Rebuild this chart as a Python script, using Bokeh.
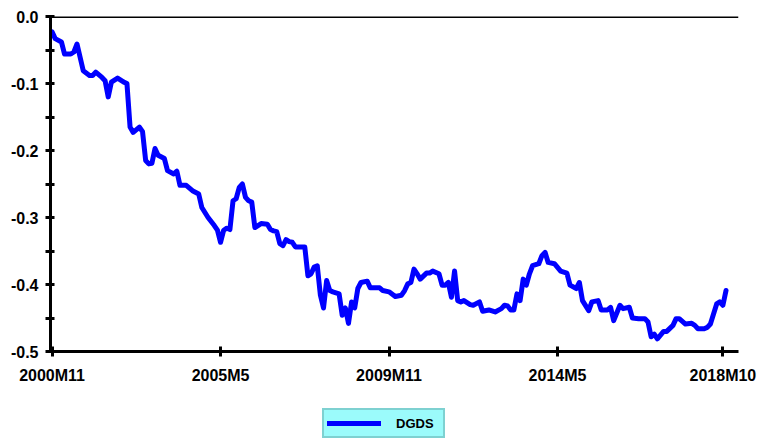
from bokeh.plotting import figure
from bokeh.layouts import column
from bokeh.models import ColumnDataSource, FixedTicker, Legend, LegendItem, Span, Range1d
from bokeh.embed import file_html
from bokeh.resources import INLINE

# months since 2000M11
months = [0, 1, 3, 4, 6, 7, 8, 10, 12, 13, 14, 16, 17, 18, 19, 21, 23, 24, 25, 26,
          28, 29, 30, 31, 32, 33, 34, 36, 37, 39, 40, 41, 43, 45, 47, 48, 50, 52, 53, 54,
          55, 56, 57, 58, 59, 60, 61, 62, 63, 64, 65, 67, 69, 70, 71, 72, 73, 74, 75, 76,
          77, 78, 81, 82, 83, 84, 85, 86, 87, 88, 89, 90, 92, 93, 94, 95, 96, 97, 98, 99,
          101, 102, 105, 106, 108, 110, 112, 113, 114, 115, 116, 117, 118, 120, 121, 122,
          124, 125, 126, 127, 128, 129, 130, 131, 132, 134, 135, 137, 138, 140, 142, 144,
          145, 146, 147, 148, 149, 150, 151, 152, 153, 154, 156, 157, 158, 159, 161, 163,
          165, 166, 168, 169, 170, 172, 173, 175, 176, 178, 179, 180, 182, 183, 185, 186,
          188, 190, 191, 192, 193, 194, 196, 197, 199, 200, 201, 203, 205, 206, 207, 209,
          210, 211, 213, 214, 215, 216]
dgds = [-0.023, -0.033, -0.038, -0.056, -0.056, -0.053, -0.041, -0.081, -0.088, -0.088,
        -0.083, -0.091, -0.096, -0.120, -0.098, -0.092, -0.098, -0.100, -0.165, -0.173,
        -0.165, -0.172, -0.215, -0.220, -0.219, -0.197, -0.207, -0.212, -0.230, -0.235,
        -0.231, -0.252, -0.252, -0.260, -0.265, -0.285, -0.300, -0.312, -0.319, -0.337,
        -0.319, -0.316, -0.318, -0.275, -0.272, -0.255, -0.250, -0.270, -0.275, -0.277,
        -0.315, -0.309, -0.310, -0.318, -0.320, -0.321, -0.339, -0.342, -0.333, -0.336,
        -0.337, -0.344, -0.344, -0.387, -0.384, -0.374, -0.372, -0.416, -0.435, -0.394,
        -0.409, -0.411, -0.414, -0.446, -0.435, -0.458, -0.426, -0.435, -0.406, -0.397,
        -0.395, -0.405, -0.405, -0.409, -0.411, -0.418, -0.416, -0.409, -0.399, -0.397,
        -0.377, -0.384, -0.392, -0.383, -0.383, -0.380,
        -0.384, -0.401, -0.401, -0.397, -0.419, -0.380, -0.424, -0.426, -0.424, -0.430,
        -0.431, -0.426, -0.440, -0.438, -0.441, -0.436,
        -0.431, -0.432, -0.438, -0.438, -0.414, -0.424, -0.392, -0.401, -0.384, -0.372,
        -0.369, -0.357, -0.352, -0.367, -0.369, -0.380,
        -0.383, -0.401, -0.406, -0.397, -0.424, -0.439, -0.426, -0.424, -0.438, -0.438,
        -0.434, -0.454, -0.431, -0.436, -0.434, -0.450,
        -0.451, -0.451, -0.456, -0.478, -0.474, -0.481, -0.470, -0.470, -0.461, -0.451,
        -0.451, -0.459, -0.458, -0.461, -0.466, -0.466,
        -0.464, -0.459, -0.429, -0.426, -0.431, -0.409]

x_tick_pos = [0, 54, 108, 162, 215]
x_tick_labels = ["2000M11", "2005M5", "2009M11", "2014M5", "2018M10"]
y_tick_pos = [0.0, -0.1, -0.2, -0.3, -0.4, -0.5]
y_tick_labels = ["0.0", "-0.1", "-0.2", "-0.3", "-0.4", "-0.5"]
y_minor_pos = [-0.05, -0.15, -0.25, -0.35, -0.45]
series_name = "DGDS"

LINE_COLOR = "#0000ff"
FONT = "Liberation Sans"

src = ColumnDataSource(data=dict(x=months, y=dgds))

p = figure(width=757, height=400, output_backend="svg", toolbar_location=None,
           x_range=Range1d(-0.5, 220), y_range=Range1d(-0.5, 0.0),
           min_border_left=50, min_border_right=19, min_border_top=16, min_border_bottom=49)
p.outline_line_color = None
p.xgrid.visible = False
p.ygrid.visible = False

r = p.line("x", "y", source=src, line_color=LINE_COLOR, line_width=5,
           line_join="round", line_cap="round")

xa = p.xaxis[0]
xa.ticker = FixedTicker(ticks=x_tick_pos)
xa.major_label_overrides = {t: l for t, l in zip(x_tick_pos, x_tick_labels)}
xa.axis_line_width = 3
xa.axis_line_color = "black"
xa.major_tick_line_width = 3
xa.major_tick_in = 5
xa.major_tick_out = 5
xa.minor_tick_line_color = None
xa.major_label_standoff = 10
xa.major_label_text_font = FONT
xa.major_label_text_font_style = "bold"
xa.major_label_text_font_size = "16px"
xa.major_label_text_color = "black"

ya = p.yaxis[0]
ya.ticker = FixedTicker(ticks=y_tick_pos, minor_ticks=y_minor_pos)
ya.major_label_overrides = {t: l for t, l in zip(y_tick_pos, y_tick_labels)}
ya.axis_line_width = 3
ya.axis_line_color = "black"
ya.major_tick_line_width = 3
ya.major_tick_in = 4
ya.major_tick_out = 5
ya.minor_tick_line_width = 3
ya.minor_tick_line_color = "black"
ya.minor_tick_in = 4
ya.minor_tick_out = 5
ya.major_label_standoff = 7
ya.major_label_text_font = FONT
ya.major_label_text_font_style = "bold"
ya.major_label_text_font_size = "16px"
ya.major_label_text_color = "black"

p.add_layout(Span(location=0.0, dimension="width", line_color="black", line_width=3))

# legend strip below the chart (its ranges keep the series itself out of view)
lf = figure(width=757, height=41, output_backend="svg", toolbar_location=None,
            x_range=Range1d(-0.5, 220), y_range=Range1d(10, 11),
            min_border_left=0, min_border_right=0, min_border_top=0, min_border_bottom=0)
lf.axis.visible = False
lf.grid.visible = False
lf.outline_line_color = None
proxy = lf.line("x", "y", source=src, line_color=LINE_COLOR, line_width=5, line_cap="round")

legend = Legend(items=[LegendItem(label=series_name, renderers=[proxy])],
                location=(272, 3), orientation="horizontal",
                background_fill_color="#9bfbfb", background_fill_alpha=1.0,
                border_line_color="#62a8a8", border_line_width=2,
                padding=3, margin=0, spacing=0,
                glyph_width=54, glyph_height=20, label_standoff=15,
                label_width=44, label_height=20,
                label_text_font=FONT, label_text_font_style="bold",
                label_text_font_size="13px", label_text_color="black")
lf.add_layout(legend, "center")

layout = column(p, lf, spacing=0)
open("out.html", "w").write(file_html(layout, INLINE))
